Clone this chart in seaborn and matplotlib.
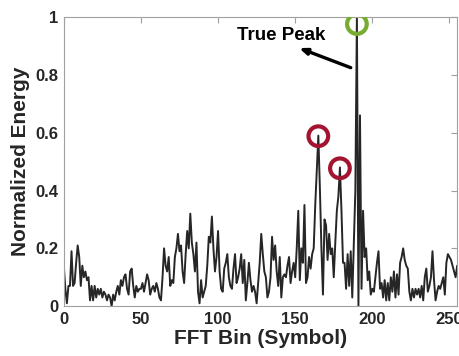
import numpy as np
import pandas as pd
import matplotlib
matplotlib.use("Agg")
import matplotlib.pyplot as plt
import seaborn as sns

energy = [
    0.14, 0.06, 0.01, 0.07, 0.07, 0.19, 0.07, 0.08, 0.15, 0.21,
    0.17, 0.07, 0.14, 0.10, 0.12, 0.09, 0.10, 0.02, 0.07, 0.02,
    0.07, 0.03, 0.06, 0.04, 0.06, 0.03, 0.05, 0.04, 0.02, 0.04,
    0.03, 0.00, 0.04, 0.02, 0.05, 0.07, 0.04, 0.09, 0.07, 0.10,
    0.11, 0.06, 0.04, 0.12, 0.13, 0.07, 0.03, 0.07, 0.05, 0.06,
    0.06, 0.08, 0.05, 0.08, 0.11, 0.09, 0.04, 0.06, 0.07, 0.05,
    0.08, 0.06, 0.03, 0.02, 0.10, 0.20, 0.14, 0.12, 0.17, 0.07,
    0.09, 0.08, 0.17, 0.20, 0.25, 0.19, 0.21, 0.12, 0.08, 0.18,
    0.26, 0.20, 0.32, 0.22, 0.18, 0.12, 0.22, 0.05, 0.01, 0.09,
    0.03, 0.05, 0.07, 0.14, 0.24, 0.22, 0.31, 0.20, 0.12, 0.17,
    0.26, 0.12, 0.06, 0.05, 0.13, 0.15, 0.18, 0.10, 0.07, 0.06,
    0.13, 0.18, 0.08, 0.10, 0.13, 0.18, 0.08, 0.16, 0.02, 0.08,
    0.15, 0.09, 0.05, 0.07, 0.05, 0.01, 0.08, 0.15, 0.25, 0.18,
    0.12, 0.10, 0.03, 0.05, 0.10, 0.24, 0.16, 0.21, 0.12, 0.07,
    0.17, 0.03, 0.10, 0.11, 0.10, 0.14, 0.17, 0.08, 0.12, 0.15,
    0.10, 0.20, 0.33, 0.09, 0.20, 0.15, 0.35, 0.08, 0.10, 0.17,
    0.13, 0.18, 0.20, 0.35, 0.47, 0.59, 0.41, 0.20, 0.04, 0.30,
    0.28, 0.16, 0.25, 0.18, 0.20, 0.10, 0.22, 0.33, 0.38, 0.48,
    0.33, 0.15, 0.15, 0.06, 0.18, 0.07, 0.19, 0.03, 0.22, 0.40,
    1.00, 0.00, 0.66, 0.06, 0.33, 0.17, 0.20, 0.09, 0.12, 0.04,
    0.06, 0.05, 0.10, 0.15, 0.19, 0.06, 0.08, 0.03, 0.09, 0.02,
    0.08, 0.02, 0.10, 0.05, 0.12, 0.03, 0.11, 0.04, 0.15, 0.17,
    0.20, 0.16, 0.14, 0.13, 0.05, 0.02, 0.06, 0.03, 0.06, 0.04,
    0.06, 0.03, 0.07, 0.02, 0.10, 0.13, 0.05, 0.07, 0.10, 0.19,
    0.09, 0.02, 0.05, 0.07, 0.06, 0.08, 0.10, 0.04, 0.15, 0.18,
    0.17, 0.16, 0.14, 0.12, 0.10, 0.14,
]
bins = list(range(len(energy)))

false_peak_bins = [165, 179]
false_peak_vals = [0.588, 0.477]
true_peak_bins = [190]
true_peak_vals = [0.976]

x_ticks = [0, 50, 100, 150, 200, 250]
y_ticks = [0, 0.2, 0.4, 0.6, 0.8, 1]
y_tick_labels = ["0", "0.2", "0.4", "0.6", "0.8", "1"]

annot_text = "True Peak"
annot_text_xy = (141, 0.938)
annot_arrow_tail = (186, 0.825)
annot_arrow_head = (152.5, 0.893)

sns.set_style("white")
plt.rcParams["font.family"] = ["Liberation Sans", "DejaVu Sans"]
plt.rcParams["font.weight"] = "bold"

fig = plt.figure(figsize=(4.59, 3.56), dpi=100)
ax = fig.add_axes([0.139, 0.140, 0.857, 0.812])

df = pd.DataFrame({"bin": bins, "energy": energy})
sns.lineplot(data=df, x="bin", y="energy", ax=ax, color="#262626", linewidth=1.4)

sns.scatterplot(x=false_peak_bins, y=false_peak_vals, ax=ax, marker="o", s=200,
                facecolors="none", edgecolor="#A2142F", linewidth=3.0, zorder=5)
sns.scatterplot(x=true_peak_bins, y=true_peak_vals, ax=ax, marker="o", s=200,
                facecolors="none", edgecolor="#77AC30", linewidth=3.0, zorder=5)

ax.annotate("", xy=annot_arrow_head, xytext=annot_arrow_tail,
            arrowprops=dict(arrowstyle="-|>,head_length=0.45,head_width=0.18",
                            color="black", lw=2.4, shrinkA=0, shrinkB=0))
ax.text(annot_text_xy[0], annot_text_xy[1], annot_text, ha="center", va="center",
        fontsize=13.5, fontweight="bold", color="black")

ax.set_xlim(0, 255)
ax.set_ylim(0, 1)
ax.set_xticks(x_ticks)
ax.set_xticklabels([str(t) for t in x_ticks])
ax.set_yticks(y_ticks)
ax.set_yticklabels(y_tick_labels)
ax.tick_params(direction="in", length=4, width=0.8, color="#a0a0a0",
               top=True, right=True, labelsize=12, pad=4)
for lab in ax.get_xticklabels() + ax.get_yticklabels():
    lab.set_fontweight("bold")
for sp in ax.spines.values():
    sp.set_color("#a0a0a0")
    sp.set_linewidth(0.8)

ax.set_xlabel("FFT Bin (Symbol)", fontsize=15, fontweight="bold", labelpad=2)
ax.set_ylabel("Normalized Energy", fontsize=15, fontweight="bold", labelpad=4)

fig.savefig("out.png", dpi=100)
